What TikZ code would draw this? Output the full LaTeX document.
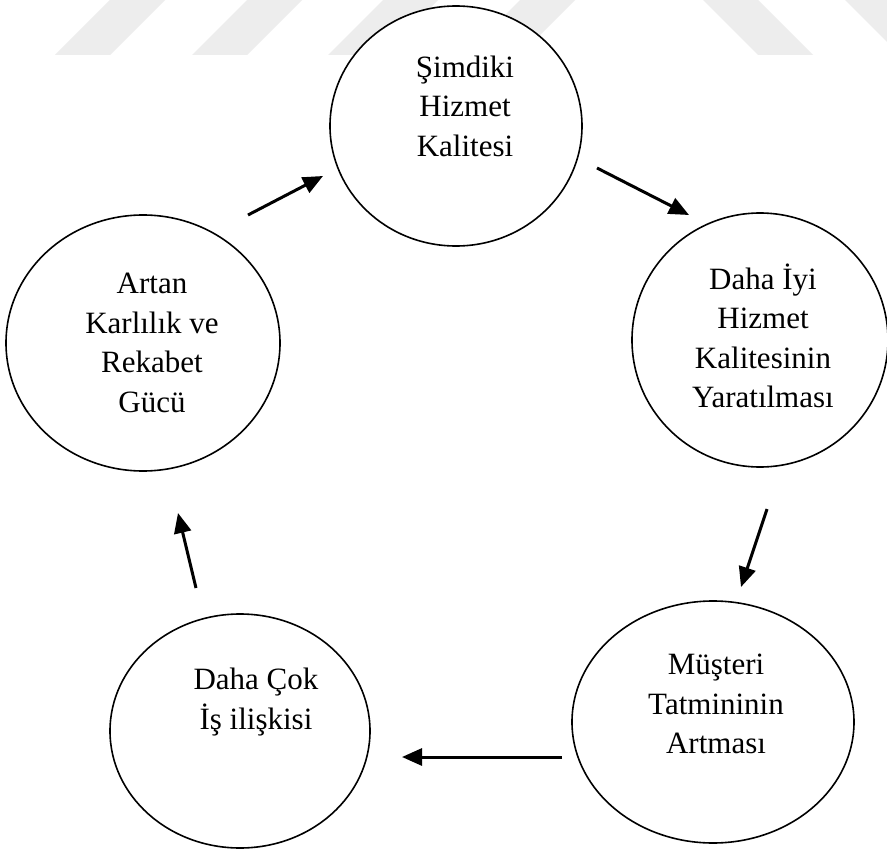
\documentclass[tikz,border=0pt]{standalone}
\usepackage{fontspec}
\setmainfont{Liberation Serif}
\usetikzlibrary{shapes.geometric,arrows.meta}
\begin{document}
\begin{tikzpicture}[x=1pt,y=-1pt,
  bubble/.style={ellipse, draw, line width=1.6pt, fill=white, inner sep=0pt},
  lbl/.style={align=center, inner sep=0pt, font=\fontsize{31}{39.5}\selectfont},
  arr/.style={line width=3pt, -{Triangle[length=20pt,width=17pt]}},
  stripe/.style={fill=black!7, draw=none}]
\useasboundingbox[fill=white] (0,0) rectangle (887,851);
% watermark stripes
\fill[stripe] (55,55) -- (110,55) -- (165,0) -- (110,0) -- cycle;
\fill[stripe] (192,55) -- (247,55) -- (302,0) -- (247,0) -- cycle;
\fill[stripe] (328,55) -- (383,55) -- (438,0) -- (383,0) -- cycle;
\fill[stripe] (465,55) -- (520,55) -- (575,0) -- (520,0) -- cycle;
\fill[stripe] (703,0) -- (758,0) -- (813,55) -- (758,55) -- cycle;
\fill[stripe] (845,0) -- (887,0) -- (887,42) -- cycle;
% ellipses
\node[bubble, minimum width=252pt, minimum height=240pt] (top) at (456,126) {};
\node[bubble, minimum width=256pt, minimum height=254pt] (right) at (760,340) {};
\node[bubble, minimum width=274pt, minimum height=256pt] (left) at (143,343) {};
\node[bubble, minimum width=282pt, minimum height=242pt] (bright) at (713,722) {};
\node[bubble, minimum width=260pt, minimum height=234pt] (bleft) at (240,731) {};
% texts
\node[lbl] (ttop) at (465,106) {Şimdiki\\Hizmet\\Kalitesi};
\node[lbl] (tright) at (763,336) {Daha İyi\\Hizmet\\Kalitesinin\\Yaratılması};
\node[lbl] (tleft) at (152,343) {Artan\\Karlılık ve\\Rekabet\\Gücü};
\node[lbl] (tbright) at (716,704) {Müşteri\\Tatmininin\\Artması};
\node[lbl] (tbleft) at (256,702) {Daha Çok\\İş ilişkisi};
% arrow ends
\coordinate (a1s) at (248,215); \coordinate (a1e) at (323,176);
\coordinate (a2s) at (597,168); \coordinate (a2e) at (689,215);
\coordinate (a3s) at (767,509); \coordinate (a3e) at (741,587);
\coordinate (a4s) at (562,757); \coordinate (a4e) at (402,757);
\coordinate (a5s) at (196,588); \coordinate (a5e) at (178,513);
\draw[arr] (a1s) -- (a1e);
\draw[arr] (a2s) -- (a2e);
\draw[arr] (a3s) -- (a3e);
\draw[arr] (a4s) -- (a4e);
\draw[arr] (a5s) -- (a5e);
\end{tikzpicture}
\end{document}
